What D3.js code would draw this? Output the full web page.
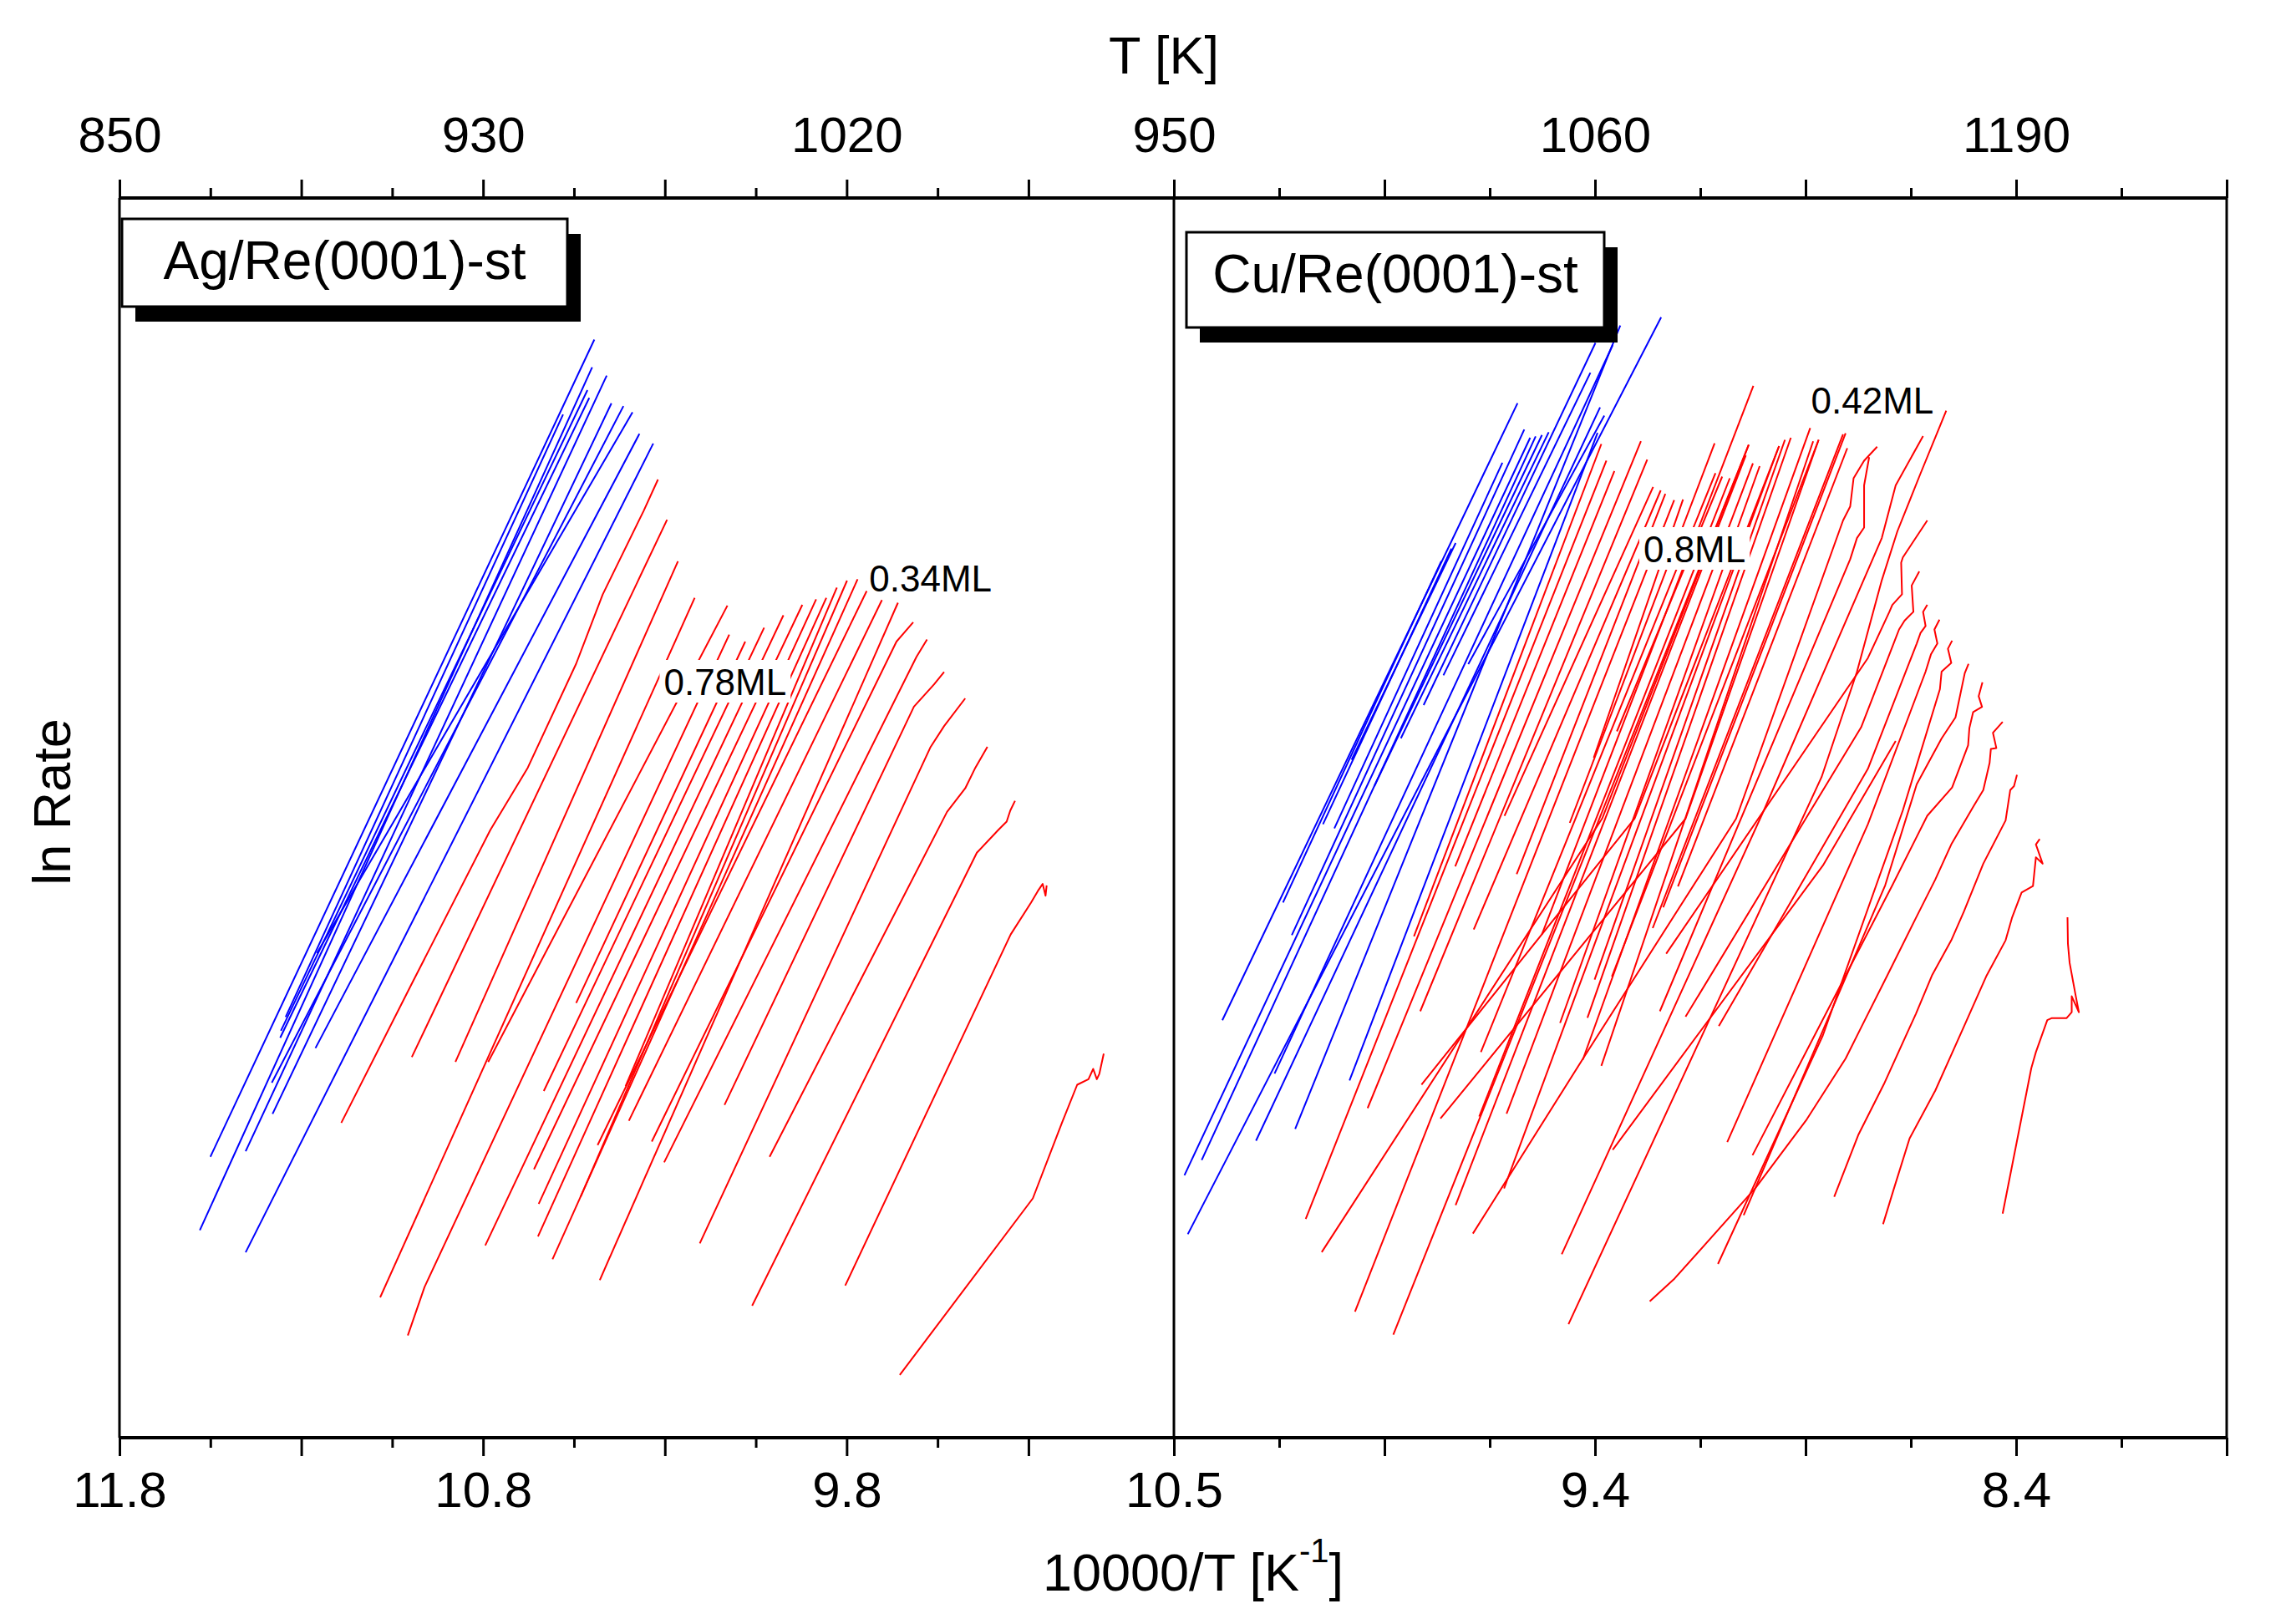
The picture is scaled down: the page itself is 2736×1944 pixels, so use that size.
<!DOCTYPE html>
<html><head><meta charset="utf-8">
<script src="https://cdn.jsdelivr.net/npm/d3@7"></script>
<style>body{margin:0;background:#fff}</style>
</head><body>
<svg id="c" width="2736" height="1944"></svg>
<script>
// ---------------- DATA ----------------
// x = 10000/T [1/K], y = ln Rate (arbitrary units)
const leftTickValues = [11.8, 10.8, 9.8];
const leftBottomLabels = ["11.8", "10.8", "9.8"];
const leftTopLabels = ["850", "930", "1020"];
const rightTickValues = [10.4, 9.4, 8.4];
const rightBottomLabels = ["10.5", "9.4", "8.4"];
const rightTopLabels = ["950", "1060", "1190"];

const agBlue = [
 [[11.550,3.363],[10.494,13.145]],
 [[11.579,2.484],[10.500,12.813]],
 [[11.453,3.429],[10.460,12.714]],
 [[11.356,4.871],[10.513,12.540]],
 [[11.358,4.788],[10.508,12.448]],
 [[11.379,3.876],[10.447,12.382]],
 [[11.381,4.250],[10.414,12.349]],
 [[11.257,5.800],[10.389,12.274]],
 [[11.261,4.664],[10.370,12.017]],
 [[11.453,2.219],[10.332,11.901]],
 [[11.343,5.037],[10.580,12.249]]
];
const agRed = [
 [[11.190,3.769],[10.994,5.452],[10.780,7.275],[10.677,8.021],[10.544,9.265],[10.471,10.094],[10.359,11.089],[10.319,11.470]],
 [[10.996,4.556],[10.294,10.989]],
 [[10.876,4.498],[10.264,10.492]],
 [[11.083,1.680],[10.218,10.053]],
 [[10.786,4.498],[10.128,9.961]],
 [[11.007,1.224],[10.961,1.804],[10.123,9.613]],
 [[10.544,5.203],[10.079,9.530]],
 [[10.633,4.150],[10.027,9.696]],
 [[10.794,2.301],[9.974,9.845]],
 [[10.660,3.213],[9.922,9.970]],
 [[10.647,2.799],[9.884,10.036]],
 [[10.649,2.409],[9.856,10.053]],
 [[10.408,4.208],[9.827,10.177]],
 [[10.532,2.882],[9.799,10.260]],
 [[10.609,2.136],[9.770,10.276]],
 [[10.485,3.503],[9.745,10.135]],
 [[10.399,3.794],[9.703,10.028]],
 [[10.479,1.887],[9.659,9.995]],
 [[10.336,3.545],[9.663,9.530],[9.617,9.762]],
 [[10.302,3.296],[9.608,9.348],[9.579,9.555]],
 [[10.136,3.984],[9.615,8.751],[9.560,9.016],[9.532,9.166]],
 [[10.204,2.326],[9.570,8.262],[9.532,8.519],[9.474,8.850]],
 [[10.012,3.363],[9.524,7.491],[9.474,7.773],[9.446,8.021],[9.413,8.270]],
 [[10.060,1.580],[9.442,7.002],[9.383,7.275],[9.360,7.375],[9.350,7.508],[9.337,7.624]],
 [[9.804,1.821],[9.349,6.024],[9.293,6.405],[9.274,6.546],[9.261,6.629],[9.253,6.488],[9.250,6.612]],
 [[9.654,0.751],[9.288,2.865],[9.208,3.769],[9.166,4.225],[9.135,4.291],[9.122,4.415],[9.112,4.291],[9.105,4.357],[9.093,4.598]]
];
const cuBlue = [
 [[10.367,2.436],[9.243,13.412]],
 [[10.375,3.141],[9.554,11.970]],
 [[10.334,3.323],[9.541,11.986]],
 [[10.285,4.998],[9.584,12.384]],
 [[10.205,3.555],[9.388,12.334]],
 [[10.161,4.359],[9.358,13.080]],
 [[10.112,3.696],[9.340,13.313]],
 [[9.983,4.276],[9.394,12.028]],
 [[10.141,6.407],[9.765,10.494]],
 [[10.046,7.344],[9.741,10.643]],
 [[9.978,8.115],[9.731,10.710]],
 [[10.019,7.294],[9.620,11.671]],
 [[10.120,6.017],[9.568,12.069]],
 [[9.924,7.800],[9.526,12.003]],
 [[9.861,8.372],[9.510,12.036]],
 [[9.807,8.770],[9.399,13.105]],
 [[9.760,9.126],[9.411,12.749]],
 [[9.701,9.259],[9.378,12.235]]
];
const cuRed = [
 [[9.830,6.001],[9.385,11.895]],
 [[10.087,2.618],[9.373,11.696]],
 [[9.732,6.838],[9.354,11.572]],
 [[9.940,3.945],[9.291,11.928]],
 [[9.815,5.105],[9.276,11.708]],
 [[9.615,7.443],[9.262,11.381]],
 [[9.688,6.084],[9.244,11.340]],
 [[9.586,6.747],[9.233,11.298]],
 [[9.970,1.508],[9.212,11.224]],
 [[9.403,8.140],[9.191,11.232]],
 [[9.460,7.360],[9.116,11.903]],
 [[9.671,4.616],[9.114,11.547]],
 [[9.526,6.026],[9.024,12.591]],
 [[9.348,8.455],[9.098,11.505]],
 [[9.675,3.845],[9.080,11.485]],
 [[9.879,1.234],[9.035,11.887]],
 [[9.731,2.784],[9.042,11.758]],
 [[9.610,3.879],[9.025,11.663]],
 [[9.483,4.965],[9.009,11.630]],
 [[9.616,2.983],[8.963,11.870]],
 [[9.401,5.483],[8.949,11.945]],
 [[9.418,5.027],[8.935,11.970]],
 [[9.429,4.525],[8.889,12.086]],
 [[9.385,4.451],[8.882,11.928]],
 [[9.360,5.520],[8.869,11.945]],
 [[9.263,6.100],[8.811,12.011]],
 [[9.238,6.349],[8.805,12.024]],
 [[9.203,6.598],[8.801,11.845]],
 [[9.812,4.227],[9.306,7.412],[8.963,11.870]],
 [[9.767,3.821],[9.185,7.410],[8.869,11.945]],
 [[10.049,2.221],[9.383,7.412],[9.035,11.887]],
 [[9.690,2.444],[9.427,4.550],[9.065,7.410],[8.811,10.980],[8.794,11.148],[8.786,11.485],[8.761,11.695],[8.730,11.862]],
 [[9.358,3.447],[8.859,6.848],[8.686,8.339]],
 [[9.246,5.105],[8.794,10.516],[8.778,10.769],[8.761,10.895],[8.761,11.400],[8.749,11.737]],
 [[9.026,3.381],[8.694,6.612],[8.611,7.445],[8.552,7.783],[8.514,8.289],[8.511,8.496],[8.502,8.687],[8.481,8.749],[8.489,8.876],[8.480,9.043]],
 [[9.047,2.664],[8.711,6.612],[8.636,7.822],[8.577,8.370],[8.544,8.623],[8.522,9.151],[8.513,9.263]],
 [[9.108,2.080],[8.859,4.815],[8.669,7.510],[8.581,8.960],[8.577,9.170],[8.554,9.275],[8.562,9.444],[8.552,9.541]],
 [[9.086,3.539],[8.752,7.344],[8.615,9.170],[8.602,9.381],[8.587,9.507],[8.594,9.675],[8.582,9.793]],
 [[9.106,4.927],[8.752,8.007],[8.636,9.507],[8.627,9.633],[8.615,9.717],[8.621,9.886],[8.611,9.969]],
 [[9.185,5.039],[8.768,8.504],[8.678,9.675],[8.665,9.780],[8.644,9.886],[8.648,10.201],[8.630,10.370]],
 [[9.231,5.794],[8.752,9.333],[8.701,9.886],[8.694,9.969],[8.671,10.096],[8.673,10.475],[8.669,10.538],[8.611,10.980]],
 [[9.463,1.358],[8.862,7.908],[8.778,9.168],[8.719,10.264],[8.682,10.850],[8.628,11.530],[8.566,12.293]],
 [[9.479,2.196],[8.999,7.510],[8.719,10.769],[8.686,11.400],[8.621,11.990]],
 [[8.432,2.682],[8.364,4.423],[8.353,4.616],[8.326,4.998],[8.315,5.023],[8.280,5.023],[8.268,5.093],[8.268,5.284],[8.251,5.093],[8.259,5.304],[8.273,5.686],[8.277,5.915],[8.278,6.229]],
 [[8.716,2.556],[8.691,2.969],[8.653,3.582],[8.592,4.155],[8.524,4.921],[8.470,5.533],[8.425,5.954],[8.410,6.221],[8.387,6.527],[8.360,6.604],[8.353,6.948],[8.337,6.871],[8.353,7.102],[8.344,7.166]],
 [[8.832,2.884],[8.775,3.622],[8.714,4.232],[8.638,5.074],[8.600,5.532],[8.554,5.954],[8.524,6.298],[8.478,6.871],[8.425,7.389],[8.414,7.752],[8.405,7.800],[8.398,7.936]],
 [[9.270,1.632],[9.211,1.906],[9.019,2.988],[8.897,3.812],[8.805,4.538],[8.767,4.921],[8.706,5.533],[8.638,6.221],[8.592,6.681],[8.554,7.102],[8.501,7.560],[8.478,7.752],[8.463,8.077],[8.460,8.244],[8.447,8.256],[8.455,8.438],[8.432,8.568]]
];

const agNoteText = ["0.78ML", "0.34ML"];
const agNoteX = [10.303, 9.738];
const agNoteY = [8.89, 10.135];
const agNoteBg = [true, false];
const cuNoteText = ["0.8ML", "0.42ML"];
const cuNoteX = [9.285, 8.887];
const cuNoteY = [10.48, 12.26];
const cuNoteBg = [true, false];

const legendAg = "Ag/Re(0001)-st";
const legendCu = "Cu/Re(0001)-st";

// ---------------- LAYOUT ----------------
const FONT = "'Liberation Sans', Arial, Helvetica, sans-serif";
const L = 143, M = 1405, R = 2665, TOP = 237, BOT = 1721;
const svg = d3.select("#c");
svg.append("rect").attr("width", 2736).attr("height", 1944).attr("fill", "#fff");

const xL = d3.scaleLinear().domain([11.8, 8.9]).range([L, M]);
const xR = d3.scaleLinear().domain([10.4, 7.9]).range([M, R]);
const y = d3.scaleLinear().domain([0, 14.84]).range([BOT, TOP]);

const defs = svg.append("defs");
defs.append("clipPath").attr("id", "clipL").append("rect")
  .attr("x", L).attr("y", TOP).attr("width", M - L).attr("height", BOT - TOP);
defs.append("clipPath").attr("id", "clipR").append("rect")
  .attr("x", M).attr("y", TOP).attr("width", R - M).attr("height", BOT - TOP);

function drawLines(g, xs, data, color) {
  const line = d3.line().x(d => xs(d[0])).y(d => y(d[1]));
  g.selectAll(null).data(data).enter().append("path")
    .attr("d", line).attr("fill", "none").attr("stroke", color)
    .attr("stroke-width", 2).attr("stroke-linejoin", "round");
}

const gL = svg.append("g").attr("clip-path", "url(#clipL)");
drawLines(gL, xL, agBlue, "#0000ff");
drawLines(gL, xL, agRed, "#ff0000");
const gR = svg.append("g").attr("clip-path", "url(#clipR)");
drawLines(gR, xR, cuBlue, "#0000ff");
drawLines(gR, xR, cuRed, "#ff0000");

function drawNotes(xs, texts, xv, yv, bg) {
  texts.forEach((t, i) => {
    const g = svg.append("g");
    const txt = g.append("text").attr("x", xs(xv[i])).attr("y", y(yv[i]))
      .attr("font-family", FONT).attr("font-size", 44).attr("fill", "#000").text(t);
    if (bg[i]) {
      const b = txt.node().getBBox();
      g.insert("rect", "text").attr("x", b.x - 5).attr("y", b.y - 2)
        .attr("width", b.width + 10).attr("height", b.height + 2).attr("fill", "#fff");
    }
  });
}
drawNotes(xL, agNoteText, agNoteX, agNoteY, agNoteBg);
drawNotes(xR, cuNoteText, cuNoteX, cuNoteY, cuNoteBg);

// legend boxes
function legend(x0, y0, w, h, label) {
  const g = svg.append("g");
  g.append("rect").attr("x", x0 + 16).attr("y", y0 + 18).attr("width", w).attr("height", h).attr("fill", "#000");
  g.append("rect").attr("x", x0).attr("y", y0).attr("width", w).attr("height", h)
    .attr("fill", "#fff").attr("stroke", "#000").attr("stroke-width", 3);
  g.append("text").attr("x", x0 + w / 2).attr("y", y0 + 72).attr("text-anchor", "middle")
    .attr("font-family", FONT).attr("font-size", 64).text(label);
}
legend(146, 262, 533, 105, legendAg);
legend(1420, 278, 500, 114, legendCu);

// frame
const frame = svg.append("g").attr("stroke", "#000");
frame.append("line").attr("x1", L - 1).attr("x2", R + 1).attr("y1", TOP).attr("y2", TOP).attr("stroke-width", 4);
frame.append("line").attr("x1", L - 1).attr("x2", R + 1).attr("y1", BOT).attr("y2", BOT).attr("stroke-width", 4);
[L, M, R].forEach(xp => frame.append("line").attr("x1", xp).attr("x2", xp)
  .attr("y1", TOP).attr("y2", BOT).attr("stroke-width", 3));

// axes
function axes(xs, start, nMajor, tickVals, botLabels, topLabels) {
  const major = d3.range(nMajor).map(i => +(start - 0.5 * i).toFixed(2));
  const minor = d3.range(nMajor - 1).map(i => +(start - 0.25 - 0.5 * i).toFixed(2));
  const key = v => v.toFixed(2);
  const bMap = new Map(tickVals.map((v, i) => [key(v), botLabels[i]]));
  const tMap = new Map(tickVals.map((v, i) => [key(v), topLabels[i]]));
  const style = g => {
    g.select(".domain").remove();
    g.attr("font-family", FONT).attr("font-size", 60);
    g.selectAll(".tick line").attr("stroke", "#000").attr("stroke-width", 3);
    g.selectAll(".tick text").attr("fill", "#000");
  };
  svg.append("g").attr("transform", `translate(0,${BOT})`)
    .call(d3.axisBottom(xs).tickValues(major).tickSize(22).tickPadding(18)
      .tickFormat(d => bMap.get(key(d)) || "")).call(style);
  svg.append("g").attr("transform", `translate(0,${BOT})`)
    .call(d3.axisBottom(xs).tickValues(minor).tickSize(12).tickFormat(() => "")).call(style);
  svg.append("g").attr("transform", `translate(0,${TOP})`)
    .call(d3.axisTop(xs).tickValues(major).tickSize(22).tickPadding(33)
      .tickFormat(d => tMap.get(key(d)) || "")).call(style);
  svg.append("g").attr("transform", `translate(0,${TOP})`)
    .call(d3.axisTop(xs).tickValues(minor).tickSize(12).tickFormat(() => "")).call(style);
}
axes(xL, 11.8, 6, leftTickValues, leftBottomLabels, leftTopLabels);
axes(xR, 10.4, 6, rightTickValues, rightBottomLabels, rightTopLabels);

// titles
svg.append("text").attr("x", 1393).attr("y", 88).attr("text-anchor", "middle")
  .attr("font-family", FONT).attr("font-size", 63).text("T [K]");
const bt = svg.append("text").attr("x", 1428).attr("y", 1904).attr("text-anchor", "middle")
  .attr("font-family", FONT).attr("font-size", 63);
bt.append("tspan").text("10000/T [K");
bt.append("tspan").attr("dy", -34).attr("font-size", 40).text("-1");
bt.append("tspan").attr("dy", 34).text("]");
svg.append("text").attr("transform", "translate(84,960) rotate(-90)").attr("text-anchor", "middle")
  .attr("font-family", FONT).attr("font-size", 63).text("ln Rate");
</script>
</body></html>
